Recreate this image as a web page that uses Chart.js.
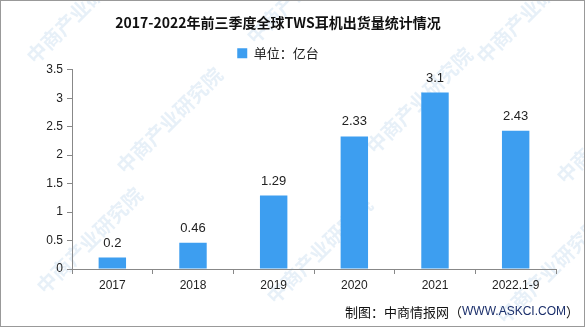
<!DOCTYPE html>
<html>
<head>
<meta charset="utf-8">
<script src="https://cdn.jsdelivr.net/npm/chart.js@4"></script>
<style>
  html, body { margin: 0; padding: 0; background: #fff; }
  #wrap { position: relative; width: 585px; height: 327px; }
</style>
</head>
<body>
<div id="wrap"><canvas id="chart" width="585" height="327"></canvas></div>
<script>
const categories = ["2017", "2018", "2019", "2020", "2021", "2022.1-9"];
const shipments = [0.2, 0.46, 1.29, 2.33, 3.1, 2.43];
const yTicks = [0, 0.5, 1, 1.5, 2, 2.5, 3, 3.5];

const barColor = "#3d9ef0";
const axisColor = "#888888";
const font = "'Liberation Sans', 'Noto Sans CJK SC', sans-serif";

// value labels above bars
const valueLabels = {
  id: "valueLabels",
  afterDatasetsDraw(chart) {
    const { ctx } = chart;
    const meta = chart.getDatasetMeta(0);
    ctx.save();
    ctx.font = "13px " + font;
    ctx.fillStyle = "#222";
    ctx.textAlign = "center";
    ctx.textBaseline = "bottom";
    meta.data.forEach((bar, i) => {
      ctx.fillText(String(shipments[i]), bar.x, bar.y - 8);
    });
    ctx.restore();
  }
};

// faint watermark, footer and frame
const decor = {
  id: "decor",
  beforeDraw(chart) {
    const { ctx, width, height } = chart;
    ctx.save();
    ctx.fillStyle = "#fff";
    ctx.fillRect(0, 0, width, height);
    ctx.font = "bold 20px 'Noto Sans CJK SC', sans-serif";
    ctx.fillStyle = "rgba(120, 170, 215, 0.18)";
    const spots = [[30, 60], [250, 40], [480, 60], [120, 170], [370, 150], [560, 180], [40, 290], [270, 300], [500, 320]];
    spots.forEach(([x, y]) => {
      ctx.save();
      ctx.translate(x, y);
      ctx.rotate(-Math.PI / 4);
      ctx.fillText("中商产业研究院", 0, 0);
      ctx.restore();
    });
    ctx.restore();
  },
  afterDraw(chart) {
    const { ctx, width, height } = chart;
    ctx.save();
    ctx.font = "13px 'Noto Sans CJK SC', sans-serif";
    ctx.textBaseline = "middle";
    ctx.textAlign = "left";
    const a = "制图：中商情报网（";
    const b = "WWW.ASKCI.COM";
    const c = "）";
    const wa = ctx.measureText(a).width;
    ctx.font = "12px " + font;
    const wb = ctx.measureText(b).width;
    ctx.font = "13px 'Noto Sans CJK SC', sans-serif";
    const wc = ctx.measureText(c).width;
    let x = 579 - (wa + wb + wc);
    const y = 312;
    ctx.fillStyle = "#111";
    ctx.fillText(a, x, y);
    x += wa;
    ctx.font = "12px " + font;
    ctx.fillStyle = "#1b2f6b";
    ctx.fillText(b, x, y);
    x += wb;
    ctx.font = "13px 'Noto Sans CJK SC', sans-serif";
    ctx.fillStyle = "#111";
    ctx.fillText(c, x, y);
    ctx.strokeStyle = "#999";
    ctx.lineWidth = 1;
    ctx.strokeRect(0.5, 0.5, width - 1, height - 1);
    ctx.restore();
  }
};

new Chart(document.getElementById("chart"), {
  type: "bar",
  data: {
    labels: categories,
    datasets: [{
      label: "单位：亿台",
      data: shipments,
      backgroundColor: barColor,
      categoryPercentage: 1,
      barPercentage: 0.34
    }]
  },
  options: {
    responsive: false,
    animation: false,
    layout: { padding: { left: 0, right: 29, top: 0, bottom: 36 } },
    plugins: {
      title: {
        display: true,
        text: "2017-2022年前三季度全球TWS耳机出货量统计情况",
        color: "#111",
        font: { family: "'Noto Sans CJK SC', serif", size: 14, weight: "bold" },
        padding: { top: 14, bottom: 2 }
      },
      legend: {
        display: true,
        labels: {
          color: "#222",
          font: { family: "'Noto Sans CJK SC', sans-serif", size: 13 },
          boxWidth: 10,
          boxHeight: 10,
          padding: 14
        }
      },
      tooltip: { enabled: false }
    },
    scales: {
      x: {
        grid: { display: true, offset: true, drawOnChartArea: false, drawTicks: true, tickLength: 5, color: axisColor },
        border: { display: true, color: axisColor },
        ticks: { color: "#222", font: { family: font, size: 12 }, padding: 4, autoSkip: false, maxRotation: 0 },
        afterFit: (scale) => { scale.height = 22; }
      },
      y: {
        min: 0,
        max: 3.5,
        afterBuildTicks: (scale) => { scale.ticks = yTicks.map((v) => ({ value: v })); },
        grid: { display: true, drawOnChartArea: false, drawTicks: true, tickLength: 5, color: axisColor },
        border: { display: true, color: axisColor },
        ticks: { color: "#222", font: { family: font, size: 12 }, padding: 4, callback: (v) => String(v) },
        afterFit: (scale) => { scale.width = 72; }
      }
    }
  },
  plugins: [decor, valueLabels]
});
</script>
</body>
</html>
